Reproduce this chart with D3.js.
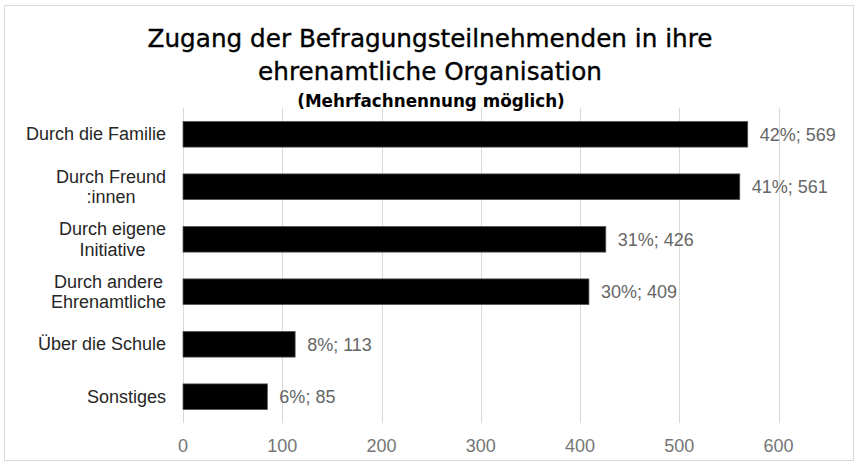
<!DOCTYPE html>
<html lang="de">
<head>
<meta charset="UTF-8">
<title>Zugang der Befragungsteilnehmenden</title>
<script src="https://cdnjs.cloudflare.com/ajax/libs/d3/7.8.5/d3.min.js"></script>
<style>
    body { margin: 0; background: #fff; }
    svg text { font-family: "Liberation Sans", Arial, sans-serif; }
    .grid line { stroke: #d9d9d9; stroke-width: 1; shape-rendering: crispEdges; }
    .tick-label { fill: #767676; font-size: 18px; }
    .cat-label { fill: #262626; font-size: 18px; }
    .val-label { fill: #666; font-size: 18px; }
    .title { font-family: "DejaVu Sans", sans-serif; fill: #000; }
</style>
</head>
<body>
<svg id="chart" width="858" height="464"></svg>
<script>
    // Daten
    const categories = [
        ["Durch die Familie"],
        ["Durch Freund", ":innen"],
        ["Durch eigene", "Initiative"],
        ["Durch andere", "Ehrenamtliche"],
        ["Über die Schule"],
        ["Sonstiges"]
    ];
    const counts = [569, 561, 426, 409, 113, 85];
    const percents = ["42%", "41%", "31%", "30%", "8%", "6%"];
    const xTicks = [0, 100, 200, 300, 400, 500, 600];
    const titleLines = ["Zugang der Befragungsteilnehmenden in ihre", "ehrenamtliche Organisation"];
    const subtitle = "(Mehrfachnennung möglich)";

    const svg = d3.select("#chart");

    // Rahmen
    svg.append("rect")
        .attr("x", 4.5).attr("y", 5.5)
        .attr("width", 849).attr("height", 455)
        .attr("fill", "#fff")
        .attr("stroke", "#d9d9d9");

    const plot = { left: 183, right: 778.5, top: 108, bottom: 423 };

    const x = d3.scaleLinear().domain([0, 600]).range([plot.left, plot.right]);
    const y = d3.scaleBand()
        .domain(d3.range(counts.length))
        .range([plot.top, plot.bottom])
        .paddingInner(0.51)
        .paddingOuter(0.255);

    // Gitterlinien
    svg.append("g").attr("class", "grid")
        .selectAll("line").data(xTicks).join("line")
        .attr("x1", d => Math.round(x(d)) + 0.5).attr("x2", d => Math.round(x(d)) + 0.5)
        .attr("y1", plot.top).attr("y2", plot.bottom);

    // Achsenbeschriftung
    svg.append("g").selectAll("text").data(xTicks).join("text")
        .attr("class", "tick-label")
        .attr("x", d => x(d))
        .attr("y", 452)
        .attr("text-anchor", "middle")
        .text(d => d);

    // Balken
    svg.append("g").selectAll("rect").data(counts).join("rect")
        .attr("x", x(0))
        .attr("y", (d, i) => y(i))
        .attr("width", d => x(d) - x(0))
        .attr("height", y.bandwidth())
        .attr("fill", "#000")
        .attr("stroke", "#595959")
        .attr("stroke-width", 0.75);

    // Werte
    svg.append("g").selectAll("text").data(counts).join("text")
        .attr("class", "val-label")
        .attr("x", d => x(d) + 12)
        .attr("y", (d, i) => y(i) + y.bandwidth() / 2 + 6.5)
        .text((d, i) => `${percents[i]}; ${d}`);

    // Kategorien (umbrochen, zentriert im rechtsbündigen Block)
    const lineH = 20.5;
    categories.forEach((lines, i) => {
        const g = svg.append("g");
        const cy = y(i) + y.bandwidth() / 2;
        const texts = lines.map((t, k) => g.append("text")
            .attr("class", "cat-label")
            .attr("text-anchor", "middle")
            .attr("y", cy + 6 + (k - (lines.length - 1) / 2) * lineH)
            .text(t));
        const w = d3.max(texts, t => t.node().getComputedTextLength());
        texts.forEach(t => t.attr("x", 166 - w / 2));
    });

    // Titel
    svg.append("g").selectAll("text").data(titleLines).join("text")
        .attr("class", "title")
        .attr("x", 430)
        .attr("y", (d, i) => 47 + i * 33)
        .attr("text-anchor", "middle")
        .attr("font-size", 24.7)
        .attr("stroke", "#000")
        .attr("stroke-width", 0.35)
        .text(d => d);

    svg.append("text")
        .attr("class", "title")
        .attr("x", 431)
        .attr("y", 107)
        .attr("text-anchor", "middle")
        .attr("font-size", 16.8)
        .attr("font-weight", "bold")
        .text(subtitle);
</script>
</body>
</html>
